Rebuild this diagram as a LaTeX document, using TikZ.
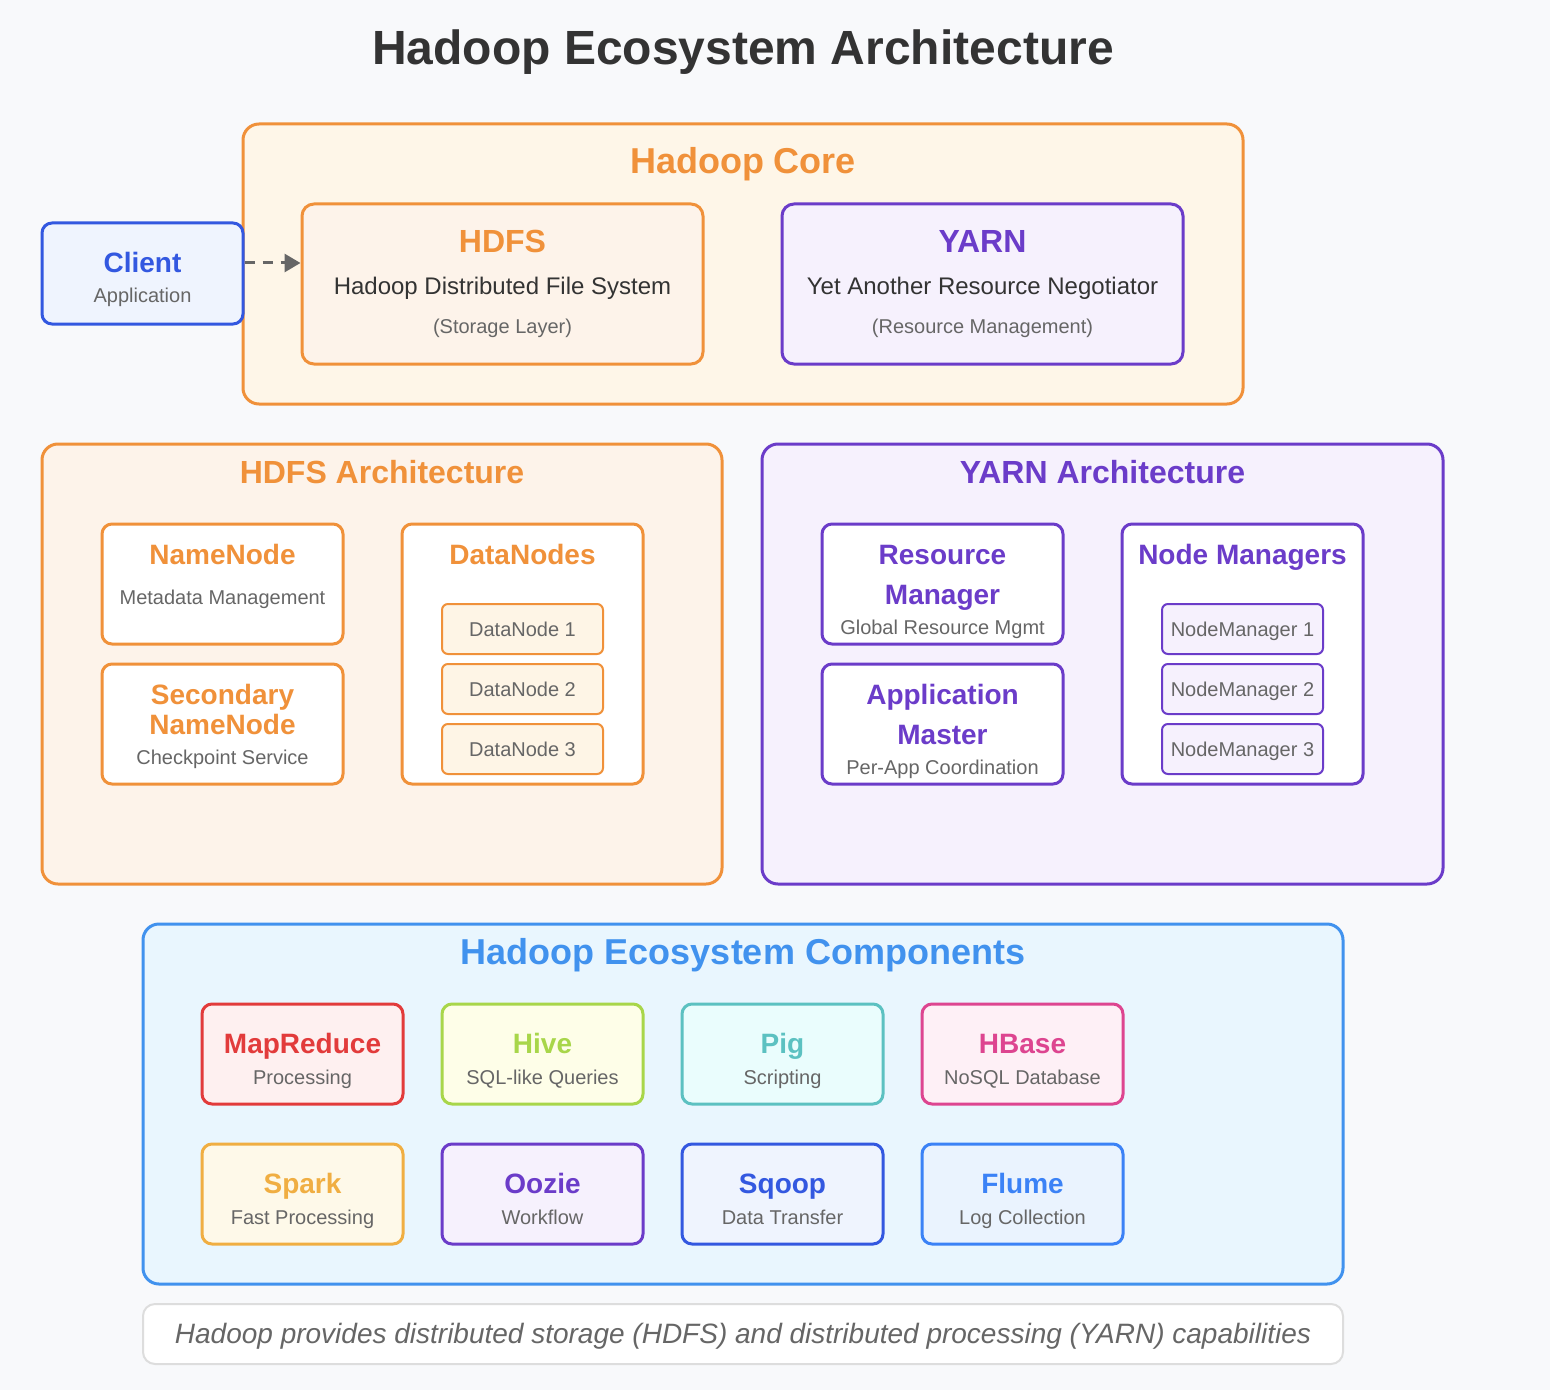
\documentclass[tikz,border=0pt]{standalone}
\usepackage{fontspec}
\setmainfont{Liberation Sans}
\usepackage{tikz}
\usetikzlibrary{arrows.meta}
\newcommand{\ftitle}{\fontsize{24}{29}\selectfont\bfseries}
\newcommand{\fsect}{\fontsize{18}{22}\selectfont\bfseries}
\newcommand{\fhead}{\fontsize{16}{19}\selectfont\bfseries}
\newcommand{\fcard}{\fontsize{14}{17}\selectfont\bfseries}
\newcommand{\fdesc}{\fontsize{12}{14}\selectfont}
\newcommand{\fsmall}{\fontsize{10}{12}\selectfont}
\definecolor{pagebg}{HTML}{F8F9FB}
\definecolor{ink}{HTML}{333333}
\definecolor{muted}{HTML}{666666}
\definecolor{hdfsor}{HTML}{F0913A}
\definecolor{corebg}{HTML}{FEF6E8}
\definecolor{hdfsbg}{HTML}{FDF3EA}
\definecolor{chipbg}{HTML}{FEF5E6}
\definecolor{yarnpu}{HTML}{6B3CC9}
\definecolor{yarnbg}{HTML}{F6F1FD}
\definecolor{clientbl}{HTML}{3358E0}
\definecolor{clientbg}{HTML}{EFF4FE}
\definecolor{ecobl}{HTML}{4192EE}
\definecolor{ecobg}{HTML}{E9F6FE}
\definecolor{footln}{HTML}{DDDDDD}
\definecolor{mrred}{HTML}{E23B3B}
\definecolor{mrbg}{HTML}{FEF0F0}
\definecolor{hivegr}{HTML}{A8D64A}
\definecolor{hivebg}{HTML}{FEFEE8}
\definecolor{pigtl}{HTML}{5CC1C1}
\definecolor{pigbg}{HTML}{EAFDFD}
\definecolor{hbpk}{HTML}{DD4590}
\definecolor{hbbg}{HTML}{FEF0F6}
\definecolor{sparkor}{HTML}{F0AE42}
\definecolor{sparkbg}{HTML}{FEF9E9}
\definecolor{flumebl}{HTML}{3B82F6}
\definecolor{flumebg}{HTML}{EAF3FE}
\tikzset{
  panel/.style={draw=#1, line width=1.5pt, rounded corners=8pt, inner sep=0pt},
  card/.style={draw=#1, line width=1.5pt, rounded corners=5pt, inner sep=0pt},
  chip/.style={draw=#1, line width=1pt, rounded corners=3pt, inner sep=0pt,
    minimum width=80.5pt, minimum height=25pt},
  txt/.style={anchor=base, inner sep=0pt},
  dashflow/.style={draw=muted, line width=1.5pt, dash pattern=on 5pt off 4pt,
    -{Triangle[length=8pt,width=9pt]}}
}

\begin{document}
\begin{tikzpicture}[x=0.5pt,y=-0.5pt]
  \fill[pagebg] (0,0) rectangle (1550,1390);
  \useasboundingbox (0,0) rectangle (1550,1390);

  \node[txt, font=\ftitle, text=ink] (title) at (743,65) {Hadoop Ecosystem Architecture};

  % core
  \node[panel=hdfsor, fill=corebg, minimum width=500pt, minimum height=140pt] (core) at (743,264) {};
  \node[txt, font=\fsect, text=hdfsor] (core-t) at (743,174) {Hadoop Core};
  \node[card=hdfsor, fill=hdfsbg, rounded corners=6pt, minimum width=200.5pt, minimum height=80pt] (hdfs) at (502.5,284) {};
  \node[txt, font=\fhead, text=hdfsor] (hdfs-t) at (502.5,253) {HDFS};
  \node[txt, font=\fdesc, text=ink] (hdfs-d) at (502.5,294) {Hadoop Distributed File System};
  \node[txt, font=\fsmall, text=muted] (hdfs-s) at (502.5,333) {(Storage Layer)};
  \node[card=yarnpu, fill=yarnbg, rounded corners=6pt, minimum width=200.5pt, minimum height=80pt] (yarn) at (982.5,284) {};
  \node[txt, font=\fhead, text=yarnpu] (yarn-t) at (982.5,253) {YARN};
  \node[txt, font=\fdesc, text=ink] (yarn-d) at (982.5,294) {Yet Another Resource Negotiator};
  \node[txt, font=\fsmall, text=muted] (yarn-s) at (982.5,333) {(Resource Management)};

  % client
  \node[card=clientbl, fill=clientbg, minimum width=100.5pt, minimum height=50.5pt] (client) at (142.5,273.5) {};
  \node[txt, font=\fcard, text=clientbl] (client-t) at (142.5,273) {Client};
  \node[txt, font=\fsmall, text=muted] (client-s) at (142.5,303) {Application};
  \draw[dashflow] ([yshift=5.25pt]client.east) -- ([yshift=5.25pt]client.east -| hdfs.west);

  % hdfs architecture
  \node[panel=hdfsor, fill=hdfsbg, minimum width=340pt, minimum height=220pt] (hdfsarch) at (382,664) {};
  \node[txt, font=\fhead, text=hdfsor] (hdfsarch-t) at (382,483.5) {HDFS Architecture};
  \node[card=hdfsor, fill=white, minimum width=120.5pt, minimum height=60pt] (namenode) at (222.5,584) {};
  \node[txt, font=\fcard, text=hdfsor] (namenode-t) at (222.5,564) {NameNode};
  \node[txt, font=\fsmall, text=muted] (namenode-s) at (222.5,604) {Metadata Management};
  \node[card=hdfsor, fill=white, minimum width=120.5pt, minimum height=60pt] (secnn) at (222.5,724) {};
  \node[txt, font=\fcard, text=hdfsor, align=center] (secnn-t) at (222.5,704) {Secondary};
  \node[txt, font=\fcard, text=hdfsor] (secnn-t2) at (222.5,734) {NameNode};
  \node[txt, font=\fsmall, text=muted] (secnn-s) at (222.5,764) {Checkpoint Service};
  \node[card=hdfsor, fill=white, minimum width=120.5pt, minimum height=130pt] (datanodes) at (522.5,654) {};
  \node[txt, font=\fcard, text=hdfsor] (datanodes-t) at (522.5,564) {DataNodes};
  \foreach \k in {1,2,3} {
    \node[chip=hdfsor, fill=chipbg] (dn\k) at (522.5,569+60*\k) {};
    \node[txt, font=\fsmall, text=muted] (dn\k-t) at (522.5,576+60*\k) {DataNode \k};
  }

  % yarn architecture
  \node[panel=yarnpu, fill=yarnbg, minimum width=340.5pt, minimum height=220pt] (yarnarch) at (1102.5,664) {};
  \node[txt, font=\fhead, text=yarnpu] (yarnarch-t) at (1102.5,483.5) {YARN Architecture};
  \node[card=yarnpu, fill=white, minimum width=120.5pt, minimum height=60pt] (rm) at (942.5,584) {};
  \node[txt, font=\fcard, text=yarnpu] (rm-t) at (942.5,564) {Resource};
  \node[txt, font=\fcard, text=yarnpu] (rm-t2) at (942.5,604) {Manager};
  \node[txt, font=\fsmall, text=muted] (rm-s) at (942.5,634) {Global Resource Mgmt};
  \node[card=yarnpu, fill=white, minimum width=120.5pt, minimum height=60pt] (am) at (942.5,724) {};
  \node[txt, font=\fcard, text=yarnpu] (am-t) at (942.5,704) {Application};
  \node[txt, font=\fcard, text=yarnpu] (am-t2) at (942.5,744) {Master};
  \node[txt, font=\fsmall, text=muted] (am-s) at (942.5,774) {Per-App Coordination};
  \node[card=yarnpu, fill=white, minimum width=120.5pt, minimum height=130pt] (nms) at (1242.5,654) {};
  \node[txt, font=\fcard, text=yarnpu] (nms-t) at (1242.5,564) {Node Managers};
  \foreach \k in {1,2,3} {
    \node[chip=yarnpu, fill=yarnbg] (nm\k) at (1242.5,569+60*\k) {};
    \node[txt, font=\fsmall, text=muted] (nm\k-t) at (1242.5,576+60*\k) {NodeManager \k};
  }

  % ecosystem components
  \node[panel=ecobl, fill=ecobg, minimum width=600pt, minimum height=180pt] (eco) at (743,1104) {};
  \node[txt, font=\fsect, text=ecobl] (eco-t) at (743,964) {Hadoop Ecosystem Components};
  \foreach \nm/\ttl/\sbt/\lc/\fc [count=\i from 0] in {
      mapreduce/MapReduce/Processing/mrred/mrbg,
      hive/Hive/SQL-like Queries/hivegr/hivebg,
      pig/Pig/Scripting/pigtl/pigbg,
      hbase/HBase/NoSQL Database/hbpk/hbbg,
      spark/Spark/Fast Processing/sparkor/sparkbg,
      oozie/Oozie/Workflow/yarnpu/yarnbg,
      sqoop/Sqoop/Data Transfer/clientbl/clientbg,
      flume/Flume/Log Collection/flumebl/flumebg} {
    \pgfmathsetmacro{\cx}{302.5+240*mod(\i,4)}
    \pgfmathsetmacro{\cy}{1054+140*int(\i/4)}
    \node[card=\lc, fill=\fc, minimum width=100.5pt, minimum height=50pt] (\nm) at (\cx,\cy) {};
    \node[txt, font=\fcard, text=\lc] (\nm-t) at (\cx,\cy-1) {\ttl};
    \node[txt, font=\fsmall, text=muted] (\nm-s) at (\cx,\cy+30) {\sbt};
  }

  % footer
  \node[draw=footln, fill=white, line width=1pt, rounded corners=6pt, minimum width=600pt, minimum height=30pt] (foot) at (743,1334) {};
  \node[txt, font=\fontsize{14}{17}\selectfont\itshape, text=muted] (foot-t) at (743,1343) {Hadoop provides distributed storage (HDFS) and distributed processing (YARN) capabilities};
\end{tikzpicture}
\end{document}
